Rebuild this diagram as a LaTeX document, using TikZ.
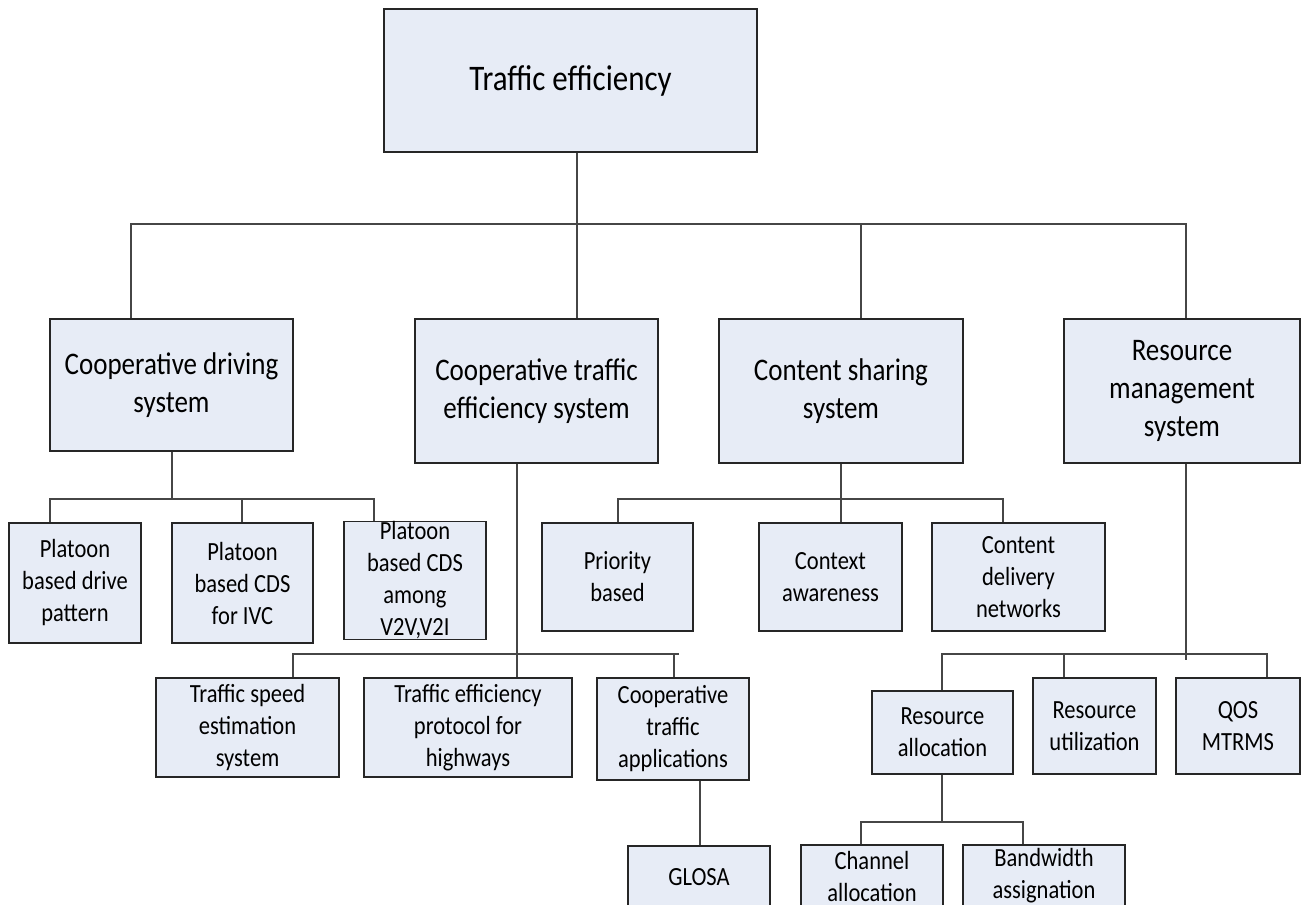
\documentclass[tikz,border=0pt]{standalone}
\usepackage{fontspec}
\setmainfont{Carlito}[FakeStretch=0.86]
\definecolor{boxfill}{RGB}{231,236,246}
\definecolor{linegray}{RGB}{70,70,70}
\begin{document}
\begin{tikzpicture}[x=1pt, y=-1pt]
\tikzset{ebox/.style={draw=black!85, fill=boxfill, line width=1.1pt, align=center, inner sep=0, text=black}}
\tikzset{lvtop/.style={ebox, font=\fontsize{36}{40}\selectfont},
         lvmid/.style={ebox, font=\fontsize{31.4}{38}\selectfont},
         lvlow/.style={ebox, font=\fontsize{26.2}{32}\selectfont},
         wire/.style={draw=linegray, line width=1.1pt}}
\useasboundingbox (0,0) rectangle (1302,905);
\clip (0,0) rectangle (1302,905);
%% define coordinate grid
\def \yone {224}
\def \ytwo {499}
\def \ythree {654}
\def \yfour {822}

%% top level
\node [lvtop, minimum width=373, minimum height=143] (top) at (570.5,80.5) {Traffic efficiency};

%% second level
\node [lvmid, minimum width=243, minimum height=132] (cds) at (171.5,385) {Cooperative driving\\system};
\node [lvmid, minimum width=243, minimum height=144] (cte) at (536.5,391) {Cooperative traffic\\efficiency system};
\node [lvmid, minimum width=244, minimum height=144] (css) at (841,391) {Content sharing\\system};
\node [lvmid, minimum width=236, minimum height=144] (rms) at (1182,391) {Resource\\management\\system};

%% third level
\node [lvlow, minimum width=132, minimum height=120] (pbdp) at (75,583) {Platoon\\based drive\\pattern};
\node [lvlow, minimum width=141, minimum height=120] (pbivc) at (242.5,583) {Platoon\\based CDS\\for IVC};
\node [lvlow, minimum width=142, minimum height=115] (pbvv) at (415,580.5) {Platoon\\based CDS\\among\\V2V,V2I};
\node [lvlow, minimum width=151, minimum height=108] (prio) at (617.5,577) {Priority\\based};
\node [lvlow, minimum width=143, minimum height=108] (ctxa) at (830.5,577) {Context\\awareness};
\node [lvlow, minimum width=173, minimum height=108] (cdn) at (1018.5,577) {Content\\delivery\\networks};
\node [lvlow, minimum width=183, minimum height=99] (tses) at (247.5,727.5) {Traffic speed\\estimation\\system};
\node [lvlow, minimum width=208, minimum height=99] (teph) at (468,727.5) {Traffic efficiency\\protocol for\\highways};
\node [lvlow, minimum width=152, minimum height=102] (cta) at (673,729) {Cooperative\\traffic\\applications};
\node [lvlow, minimum width=141, minimum height=83] (ra) at (942.5,732.5) {Resource\\allocation};
\node [lvlow, minimum width=123, minimum height=96] (ru) at (1094.5,726) {Resource\\utilization};
\node [lvlow, minimum width=124, minimum height=96] (qos) at (1238,726) {QOS\\MTRMS};

%% fourth level
\node [lvlow, minimum width=142, minimum height=62] (glosa) at (699,877) {GLOSA};
\node [lvlow, minimum width=142, minimum height=62] (chan) at (872,876) {Channel\\allocation};
\node [lvlow, minimum width=162, minimum height=62] (bw) at (1044,876) {Bandwidth\\assignation};

% bus points
\coordinate (bal) at (131,\yone);
\coordinate (bac) at (577,\yone);
\coordinate (bad) at (861,\yone);
\coordinate (bar) at (1186,\yone);
\coordinate (bbl) at (50,\ytwo);
\coordinate (bbs) at (172,\ytwo);
\coordinate (bbm) at (242,\ytwo);
\coordinate (bbr) at (374,\ytwo);
\coordinate (bcl) at (618,\ytwo);
\coordinate (bcm) at (841,\ytwo);
\coordinate (bcr) at (1003,\ytwo);
\coordinate (bdl) at (293,\ythree);
\coordinate (bdm) at (517,\ythree);
\coordinate (bdr) at (674,\ythree);
\coordinate (bde) at (679,\ythree);
\coordinate (bel) at (942,\ythree);
\coordinate (bem) at (1064,\ythree);
\coordinate (ber) at (1267,\ythree);
\coordinate (bes) at (1186,660);
\coordinate (bfl) at (861,\yfour);
\coordinate (bfs) at (942,\yfour);
\coordinate (bfr) at (1023,\yfour);
\coordinate (bg) at (700,\yfour);

% paths
\draw [wire] (bac |- top.south) -- (bac |- cte.north);
\draw [wire] (bal |- cds.north) -- (bal) -- (bar) -- (bar |- rms.north);
\draw [wire] (bad) -- (bad |- css.north);

\draw [wire] (bbs |- cds.south) -- (bbs);
\draw [wire] (bbl |- pbdp.north) -- (bbl) -- (bbr) -- (bbr |- pbvv.north);
\draw [wire] (bbm) -- (bbm |- pbivc.north);

\draw [wire] (bcm |- css.south) -- (bcm |- ctxa.north);
\draw [wire] (bcl |- prio.north) -- (bcl) -- (bcr) -- (bcr |- cdn.north);

\draw [wire] (bdm |- cte.south) -- (bdm |- teph.north);
\draw [wire] (bdl |- tses.north) -- (bdl) -- (bde);
\draw [wire] (bdr) -- (bdr |- cta.north);
\draw [wire] (bg |- cta.south) -- (bg |- glosa.north);

\draw [wire] (bes |- rms.south) -- (bes);
\draw [wire] (bel |- ra.north) -- (bel) -- (ber) -- (ber |- qos.north);
\draw [wire] (bem) -- (bem |- ru.north);

\draw [wire] (bfs |- ra.south) -- (bfs);
\draw [wire] (bfl |- chan.north) -- (bfl) -- (bfr) -- (bfr |- bw.north);
\end{tikzpicture}
\end{document}
